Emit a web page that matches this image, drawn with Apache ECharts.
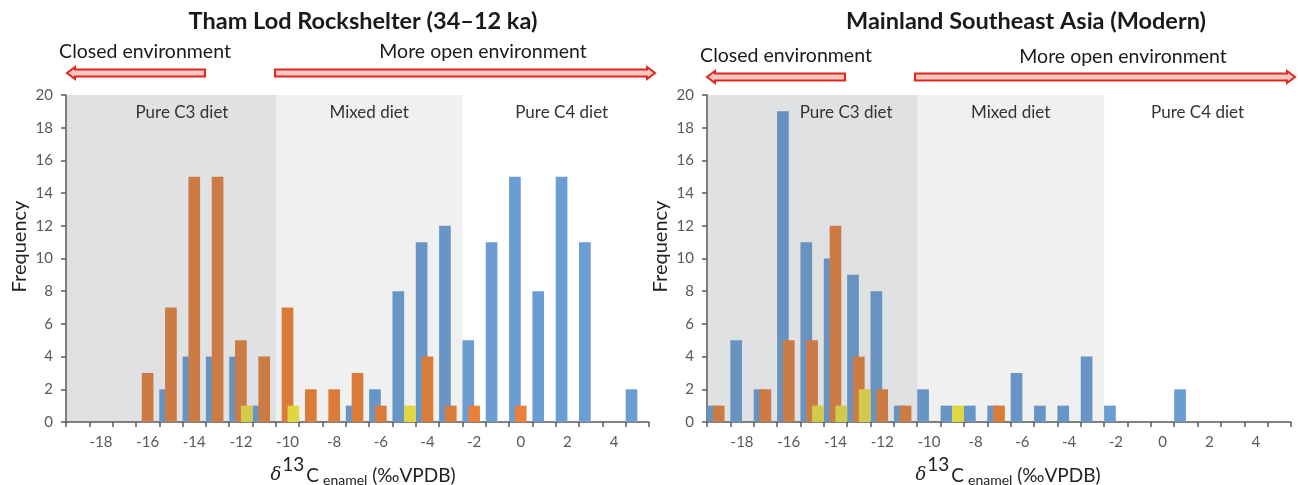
<!DOCTYPE html>
<html>
<head>
<meta charset="utf-8">
<script src="https://cdn.jsdelivr.net/npm/echarts@6/dist/echarts.min.js"></script>
<style>
html,body{margin:0;padding:0;background:#fff;}
#chart{width:1298px;height:485px;}
</style>
</head>
<body>
<div id="chart"></div>
<script>
// δ13C bins (‰ VPDB), one bar group per 1‰ bin
const categories = ['-19','-18','-17','-16','-15','-14','-13','-12','-11','-10','-9','-8','-7','-6','-5','-4','-3','-2','-1','0','1','2','3','4','5'];
const yTicks = { min: 0, max: 20, interval: 2 };

// Tham Lod Rockshelter (34–12 ka)
const thamLodBlue   = [0,0,0,0,2,4,4,4,1,0,0,0,1,2,8,11,12,5,11,15,8,15,11,0,2];
const thamLodOrange = [0,0,0,3,7,15,15,5,4,7,2,2,3,1,0,4,1,1,0,1,0,0,0,0,0];
const thamLodYellow = [0,0,0,0,0,0,0,1,0,1,0,0,0,0,1,0,0,0,0,0,0,0,0,0,0];

// Mainland Southeast Asia (Modern)
const modernBlue   = [1,5,2,19,11,10,9,8,1,2,1,1,1,3,1,1,4,1,0,0,2,0,0,0,0];
const modernOrange = [1,0,2,5,5,12,4,2,1,0,0,0,1,0,0,0,0,0,0,0,0,0,0,0,0];
const modernYellow = [0,0,0,0,1,1,2,0,0,0,1,0,0,0,0,0,0,0,0,0,0,0,0,0,0];

// Diet zones (bin edges)
const zoneEdges = [-19.5, -10.5, -2.5, 5.5];
const zoneNames = ['Pure C3 diet', 'Mixed diet', 'Pure C4 diet'];

const panelTitles = ['Tham Lod Rockshelter (34–12 ka)', 'Mainland Southeast Asia (Modern)'];
const envLabels = ['Closed environment', 'More open environment'];

const FONT = 'Lato';
const BLUE = '#6A9DD2', ORANGE = '#E8803A', YELLOW = '#EDE340';
const AXIS = '#595959';

const chart = echarts.init(document.getElementById('chart'), null, {renderer: 'canvas'});

const grids = [
  {left: 66, top: 95, width: 583, height: 327, outerBoundsMode: 'none', containLabel: false},
  {left: 707, top: 95, width: 584, height: 327, outerBoundsMode: 'none', containLabel: false}
];

function catAxis(gi, padLeft) {
  return {
    type: 'category', gridIndex: gi, data: categories,
    boundaryGap: true,
    axisLine: {show: true, onZero: false, lineStyle: {color: AXIS, width: 1.5}},
    axisTick: {show: true, interval: 0, length: 5, lineStyle: {color: AXIS, width: 1.5}},
    axisLabel: {
      interval: function (i, v) { return Number(v) % 2 === 0; },
      margin: 13, color: AXIS, fontSize: 15, fontFamily: FONT
    },
    splitLine: {show: false},
    name: '{d|δ}{s|13}{c|C}{b|enamel}{c| (‰VPDB)}',
    nameLocation: 'middle', nameGap: 29,
    nameTextStyle: {
      padding: [0, 0, 0, padLeft],
      rich: {
        d: {fontFamily: 'DejaVu Serif', fontStyle: 'italic', fontSize: 18, color: '#222', lineHeight: 20, verticalAlign: 'top', padding: [11, 1, 0, 0]},
        s: {fontFamily: FONT, fontSize: 19, color: '#222', lineHeight: 20, verticalAlign: 'top', padding: [0, 2, 0, 0]},
        c: {fontFamily: FONT, fontSize: 19, color: '#222', lineHeight: 20, verticalAlign: 'top', padding: [11, 0, 0, 0]},
        b: {fontFamily: FONT, fontSize: 14, color: '#222', lineHeight: 16, verticalAlign: 'top', padding: [19, 0, 0, 4]}
      }
    }
  };
}
function valAxisX(gi) {
  return {type: 'value', gridIndex: gi, min: zoneEdges[0], max: zoneEdges[3], show: false};
}
function yAxis(gi) {
  return {
    type: 'value', gridIndex: gi, min: yTicks.min, max: yTicks.max, interval: yTicks.interval,
    axisLine: {show: true, onZero: false, lineStyle: {color: AXIS, width: 1.5}},
    axisTick: {show: true, length: 5, lineStyle: {color: AXIS, width: 1.5}},
    axisLabel: {margin: 13, color: AXIS, fontSize: 15, fontFamily: FONT},
    splitLine: {show: false},
    name: 'Frequency', nameLocation: 'middle', nameGap: 36,
    nameTextStyle: {fontSize: 20, color: '#222', fontFamily: FONT, padding: [0, 0, 0, 24]}
  };
}
function bars(gi, data, color, name) {
  return {
    type: 'bar', name: name, xAxisIndex: gi, yAxisIndex: gi, data: data,
    barWidth: '50%', barGap: '-50%',
    itemStyle: {color: color},
    z: 2, silent: true
  };
}
function zones(gi, c3Offset, c4Offset) {
  const offs = [c3Offset, 0, c4Offset];
  const fills = ['rgba(100,105,115,0.2)', 'rgba(60,64,64,0.08)', 'rgba(255,255,255,0)'];
  return {
    type: 'line', xAxisIndex: 2 + gi, yAxisIndex: gi, data: [], z: 3, silent: true,
    markArea: {
      silent: true, z: 5,
      data: zoneNames.map(function (n, i) {
        return [{
          name: n, xAxis: zoneEdges[i],
          itemStyle: {color: fills[i]},
          label: {show: true, position: 'insideTop', distance: 9, offset: [offs[i], 0],
                  color: '#333', fontSize: 17, fontFamily: FONT}
        }, {xAxis: zoneEdges[i + 1]}];
      })
    }
  };
}

function arrow(x0, x1, y) {
  // x0 = tail, x1 = tip
  const dir = x1 > x0 ? 1 : -1;
  const h = 3.5, H = 6, L = 8;
  const b = x1 - dir * L;
  return {
    type: 'polygon',
    shape: {points: [[x0, y - h], [b, y - h], [b, y - H], [x1, y], [b, y + H], [b, y + h], [x0, y + h]]},
    style: {fill: '#F6C8C2', stroke: '#E2261D', lineWidth: 2}
  };
}
function txt(x, y, s, size, bold) {
  return {
    type: 'text', x: x, y: y,
    style: {text: s, fontFamily: FONT, fontSize: size, fontWeight: bold ? 'bold' : 'normal',
            fill: '#1a1a1a', align: 'center', verticalAlign: 'middle'}
  };
}

const option = {
  animation: false,
  backgroundColor: '#ffffff',
  textStyle: {fontFamily: FONT},
  grid: grids,
  xAxis: [catAxis(0, 11), catAxis(1, 18), valAxisX(0), valAxisX(1)],
  yAxis: [yAxis(0), yAxis(1)],
  series: [
    bars(0, thamLodBlue, BLUE, 'Series A'),
    bars(0, thamLodOrange, ORANGE, 'Series B'),
    bars(0, thamLodYellow, YELLOW, 'Series C'),
    bars(1, modernBlue, BLUE, 'Series A'),
    bars(1, modernOrange, ORANGE, 'Series B'),
    bars(1, modernYellow, YELLOW, 'Series C'),
    zones(0, 11, 6),
    zones(1, 34, 0)
  ],
  graphic: [
    txt(363, 21, panelTitles[0], 23.5, true),
    txt(1026, 21, panelTitles[1], 23.5, true),
    txt(145, 52, envLabels[0], 19.5, false),
    txt(483, 52, envLabels[1], 19.5, false),
    txt(786, 56, envLabels[0], 19.5, false),
    txt(1123, 57, envLabels[1], 19.5, false),
    arrow(205, 67, 73),
    arrow(275, 655, 73),
    arrow(845, 707, 77),
    arrow(915, 1295, 77)
  ]
};
chart.setOption(option);
</script>
</body>
</html>
